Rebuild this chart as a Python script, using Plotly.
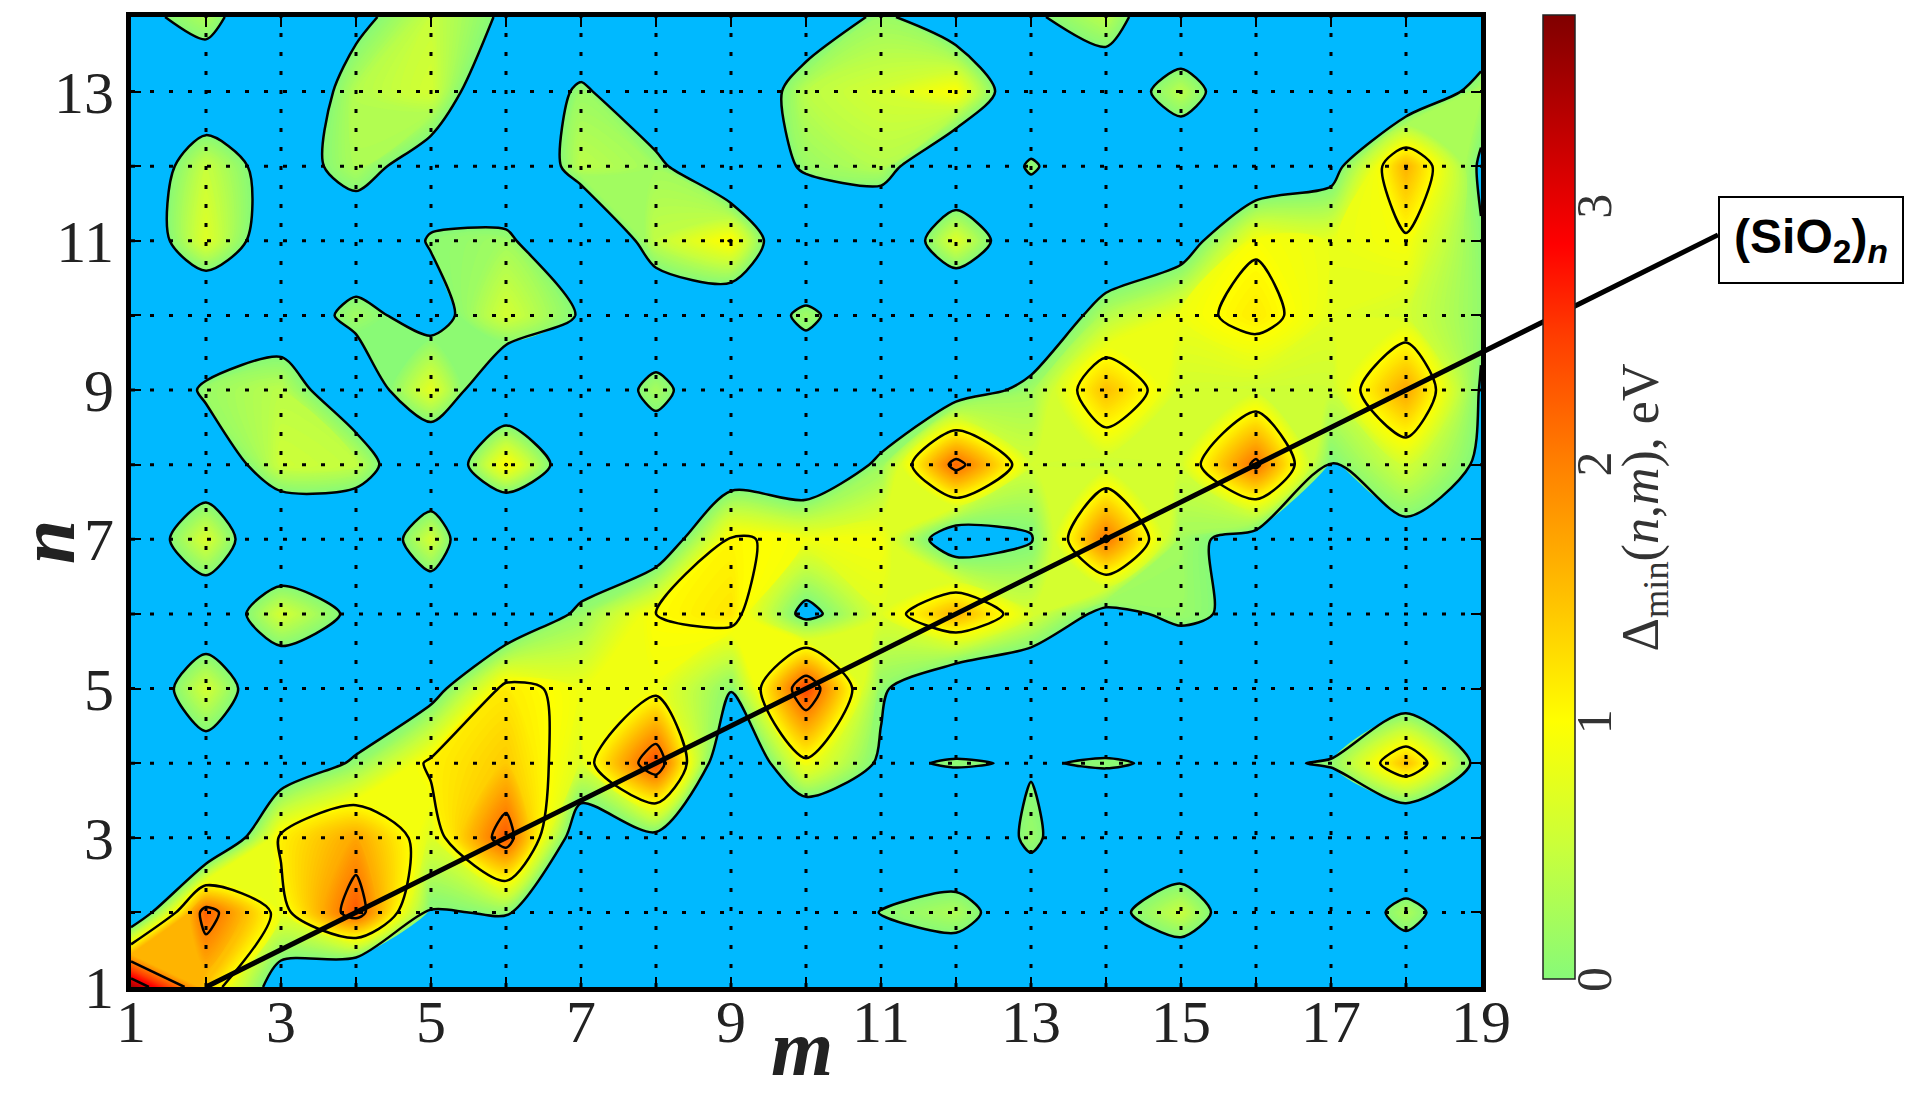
import plotly.graph_objects as go

# ---------------- data ----------------
m_vals = list(range(1, 20))          # columns (m)
n_vals = list(range(1, 15))          # rows (n)

z_n1 = [3.5, 1.4, -0.44, -1.5, -1.0, -0.8, -0.8, -0.8, -0.8, -0.8, -0.8, -0.8, -0.8, -0.8, -1.0, -0.8, -0.8, -0.9, -0.8]
z_n2 = [-0.875, 2.25, 0.8, 2.3, -0.05, 0.05, -0.8, -0.8, -0.8, -0.6, 0.02, 0.3, -0.6, -0.25, 0.5, -0.75, -0.8, 0.3, -0.8]
z_n3 = [-0.8, -1.2, 1.1, 1.7, 0.7, 2.3, -0.6, -0.2, -1.0, -1.1, -1.0, -0.8, 0.15, -0.8, -0.8, -0.8, -0.8, -1.3, -0.8]
z_n4 = [-0.8, -0.45, -0.6, 0.1, 1.1, 1.4, 0.7, 2.4, -1.0, 0.9, -0.1, 0.05, -0.05, 0.06, -0.1, -0.1, 0.05, 1.5, -0.25]
z_n5 = [-0.8, 0.6, -0.8, -0.8, -0.3, 1.15, 0.85, 0.85, 0.05, 2.45, 0.1, -0.8, -0.8, -0.8, -0.8, -0.8, -0.8, -0.74, -0.8]
z_n6 = [-0.8, -0.7, 0.6, -0.16, -0.8, -0.8, 0.15, 1.0, 1.2, -0.2, 0.7, 1.6, 0.65, -0.2, 0.15, -0.2, -0.8, -0.8, -0.8]
z_n7 = [-0.7, 0.65, -1.0, -1.0, 0.6, -1.7, -0.8, -0.6, 1.05, 0.9, 0.9, -0.5, -0.05, 2.08, 0.2, -0.3, -0.8, -0.26, -0.8]
z_n8 = [-0.8, -0.67, 0.55, 0.45, -1.0, 1.02, -0.7, -0.64, -0.57, -0.8, 0.15, 2.2, 0.6, 0.5, 0.6, 2.12, -0.05, 0.6, -0.1]
z_n9 = [-1.1, 0.15, 0.4, -0.6, 0.75, -0.92, -0.8, 0.25, -0.8, -0.8, -0.8, -0.4, 0.2, 1.5, 0.6, 0.55, 0.55, 1.7, -0.05]
z_n10 = [-0.8, -1.05, -0.5, 0.2, -0.28, 0.6, -0.05, -0.8, -0.8, 0.2, -0.8, -1.2, -0.8, 0.35, 0.85, 1.15, 0.75, 0.6, 0.1]
z_n11 = [-0.75, 0.7, -0.6, -0.6, 0.05, 0.2, -1.2, 0.45, 1.02, -1.3, -1.0, 0.7, -0.8, -0.8, -0.4, 0.95, 0.8, 0.93, 0.05]
z_n12 = [-0.7, 0.5, -0.4, 0.3, -0.42, -1.1, 0.4, 0.2, -1.0, 0.15, 0.35, -1.0, 0.1, -0.8, -0.8, -0.8, -0.3, 1.6, -0.1]
z_n13 = [-0.9, -0.7, -0.8, 0.35, 0.6, -0.9, 0.15, -0.8, -0.85, 0.4, 0.6, 0.98, -0.9, -0.6, 0.4, -0.8, -0.8, -0.8, 0.3]
z_n14 = [-0.25, 0.3, -0.9, -0.2, 0.5, -0.1, -1.0, -0.8, -0.8, -0.6, 0.15, -0.6, -0.1, 0.4, -0.9, -0.8, -0.8, -0.8, -0.8]

z_rows = [z_n1, z_n2, z_n3, z_n4, z_n5, z_n6, z_n7, z_n8, z_n9, z_n10, z_n11, z_n12, z_n13, z_n14]

x_tick_vals = list(range(1, 20))
x_tick_text = [str(v) if v % 2 == 1 else "" for v in x_tick_vals]
y_tick_vals = list(range(1, 15))
y_tick_text = [str(v) if v % 2 == 1 else "" for v in y_tick_vals]
cbar_ticks = [0, 1, 2, 3]
contour_levels = [1, 2, 3]
sio2_m = [2, 22.16]                  # (SiO2)_n line: n = m/2

# ---------------- styling ----------------
ZMAX = 3.74
BLUE = "rgb(0,185,255)"
pos_stops = [
    (0.0, "rgb(135,250,120)"),
    (0.5, "rgb(200,255,60)"),
    (1.0, "rgb(255,255,0)"),
    (1.5, "rgb(255,190,0)"),
    (2.0, "rgb(255,128,0)"),
    (2.5, "rgb(255,60,0)"),
    (2.85, "rgb(255,0,0)"),
    (3.74, "rgb(128,0,0)"),
]

# fine filled contour bands (continuous-looking shading), lines only at 0,1,2,3
STEP = 1 / 32
TOP = 3.75
NC = round(TOP / STEP) + 1


def p_of(v):
    return min(1.0, (v / STEP + 0.5) / NC)


fill_scale = [[0.0, BLUE], [p_of(0.0), BLUE]]
fill_scale += [[p_of(v) + (1e-6 if v == 0 else 0), c] for v, c in pos_stops]
if fill_scale[-1][0] < 1.0:
    fill_scale.append([1.0, pos_stops[-1][1]])
bar_scale = [[v / ZMAX, c] for v, c in pos_stops]

SMOOTH = 0.8

# layout geometry (pixels)
W, H = 1905, 1096
L, R, T, B = 131, 1905 - 1481, 12, 1096 - 987
PW, PH = W - L - R, H - T - B


def px_x(px):
    return (px - L) / PW


def px_y(py):
    return (987 - py) / PH


SERIF = "Liberation Serif, Times New Roman, serif"

fig = go.Figure()

fig.add_trace(go.Contour(
    x=m_vals, y=n_vals, z=z_rows,
    colorscale=fill_scale, showscale=False,
    contours=dict(start=0, end=TOP, size=STEP, coloring="fill", showlines=False),
    line=dict(width=0, smoothing=SMOOTH),
    hoverinfo="skip",
))
fig.add_trace(go.Contour(
    x=m_vals, y=n_vals, z=z_rows,
    showscale=False,
    contours=dict(start=0, end=3, size=1, coloring="none", showlines=True),
    line=dict(color="black", width=2.5, smoothing=SMOOTH),
    hoverinfo="skip",
))

# colourbar (positive range only)
cb_x = px_x(1543)
cb_y0 = px_y(979)
cb_len = (979 - 10) / PH
cb_thick = 32
fig.add_trace(go.Scatter(
    x=[None], y=[None], mode="markers", showlegend=False, hoverinfo="skip",
    marker=dict(
        color=[0], cmin=0, cmax=ZMAX, colorscale=bar_scale, showscale=True,
        colorbar=dict(
            x=cb_x, xanchor="left", xpad=0, y=cb_y0, yanchor="bottom", ypad=0,
            len=cb_len, lenmode="fraction", thickness=cb_thick,
            outlinecolor="#222", outlinewidth=1.5,
            tickvals=cbar_ticks, showticklabels=False, ticks="",
        ),
    ),
))

shapes = []
# dotted grid at every integer
for mv in x_tick_vals[1:-1]:
    shapes.append(dict(type="line", xref="x", yref="y", x0=mv, x1=mv, y0=n_vals[0], y1=n_vals[-1],
                       line=dict(color="black", width=3, dash="4px,15px"), layer="above"))
for nv in y_tick_vals[1:-1]:
    shapes.append(dict(type="line", xref="x", yref="y", x0=m_vals[0], x1=m_vals[-1], y0=nv, y1=nv,
                       line=dict(color="black", width=3, dash="4px,15px"), layer="above"))

# contour-level lines across the colour bar
for lv in contour_levels:
    yy = cb_y0 + lv / ZMAX * cb_len
    shapes.append(dict(type="line", xref="paper", yref="paper",
                       x0=cb_x, x1=cb_x + cb_thick / PW, y0=yy, y1=yy,
                       line=dict(color="black", width=2), layer="above"))


def to_paper(m, n):
    return (m - m_vals[0]) / (m_vals[-1] - m_vals[0]), (n - n_vals[0]) / (n_vals[-1] - n_vals[0])


x0p, y0p = to_paper(sio2_m[0], sio2_m[0] / 2)
x1p, y1p = to_paper(sio2_m[1], sio2_m[1] / 2)
shapes.append(dict(type="line", xref="paper", yref="paper", x0=x0p, y0=y0p, x1=x1p, y1=y1p,
                   line=dict(color="black", width=5), layer="above"))

annotations = [
    dict(xref="paper", yref="paper", x=x1p, y=y1p - 0.005, xanchor="left", yanchor="middle",
         text="<b>(SiO<sub>2</sub>)<sub><i>n</i></sub></b>", showarrow=False,
         font=dict(family="Liberation Sans, Arial, sans-serif", size=48, color="black"),
         bgcolor="white", bordercolor="black", borderwidth=2, borderpad=6,
         width=170, height=72),
    dict(xref="paper", yref="paper", x=px_x(802), y=px_y(1095), xanchor="center", yanchor="bottom",
         text="<b><i>m</i></b>", showarrow=False,
         font=dict(family=SERIF, size=80, color="#222")),
    dict(xref="paper", yref="paper", x=px_x(1), y=px_y(540), xanchor="left",
         yanchor="middle", textangle=-90,
         text="<b><i>n</i></b>", showarrow=False,
         font=dict(family=SERIF, size=80, color="#222")),
    dict(xref="paper", yref="paper", x=px_x(1644), y=px_y(505), xanchor="center", yanchor="middle",
         textangle=-90, text="Δ<sub>min</sub>(<i>n</i>,<i>m</i>), eV", showarrow=False,
         font=dict(family=SERIF, size=52, color="#333")),
]
for tv in cbar_ticks:
    annotations.append(dict(
        xref="paper", yref="paper", x=px_x(1594), y=cb_y0 + tv / ZMAX * cb_len,
        xanchor="center", yanchor="middle", textangle=-90, text=str(tv), showarrow=False,
        font=dict(family=SERIF, size=50, color="#333")))

axis_common = dict(
    showgrid=False, zeroline=False, showline=True, linewidth=5, linecolor="black",
    mirror="ticks", ticks="inside", ticklen=10, tickwidth=2, tickcolor="black",
    tickfont=dict(family=SERIF, size=60, color="#222"), layer="above traces",
)

fig.update_layout(
    width=W, height=H,
    margin=dict(l=L, r=R, t=T, b=B, pad=0),
    paper_bgcolor="white", plot_bgcolor="white",
    xaxis=dict(range=[m_vals[0], m_vals[-1]], tickvals=x_tick_vals, ticktext=x_tick_text,
               ticklabelstandoff=-22, **axis_common),
    yaxis=dict(range=[n_vals[0], n_vals[-1]], tickvals=y_tick_vals, ticktext=y_tick_text,
               **axis_common),
    shapes=shapes,
    annotations=annotations,
    showlegend=False,
)

fig.write_html("out.html", config={"displayModeBar": False},
               post_script="document.body.style.margin='0px';")
